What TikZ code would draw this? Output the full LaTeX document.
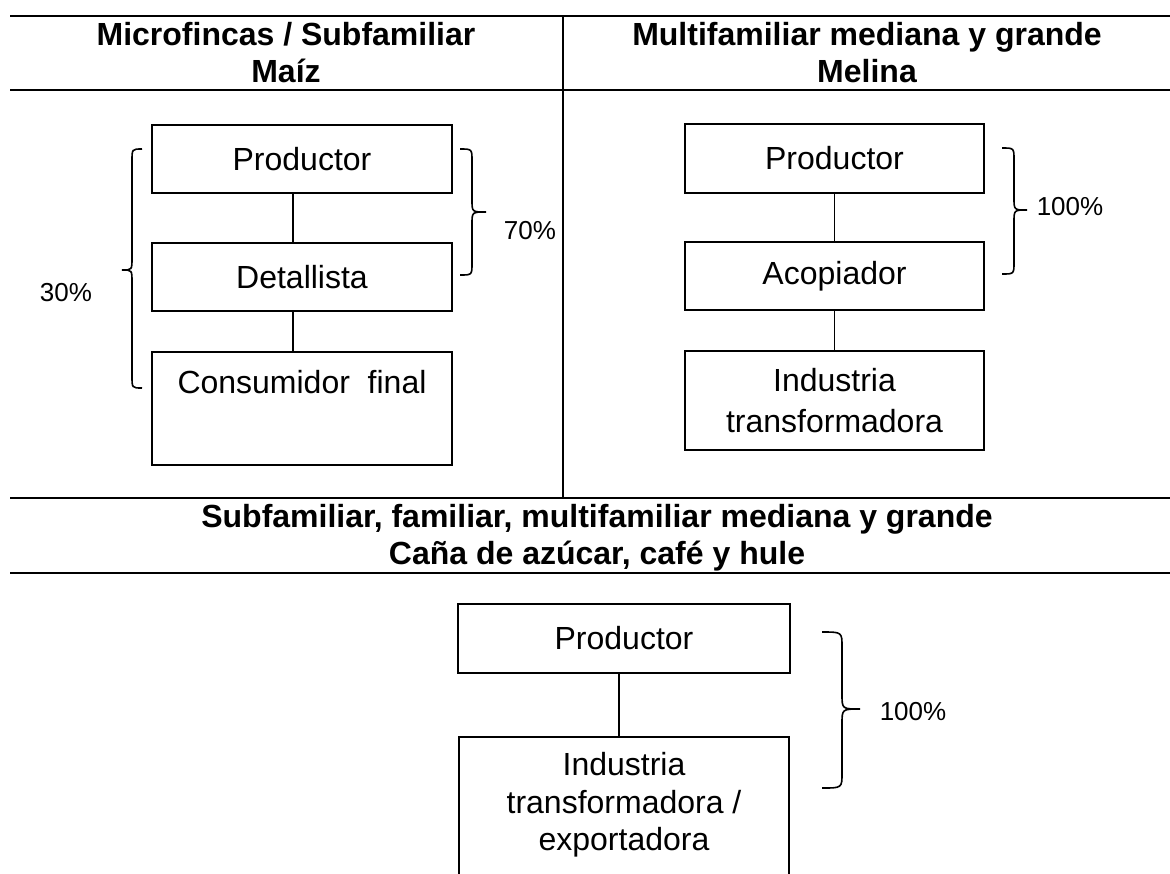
\documentclass[tikz,border=0pt]{standalone}
\usepackage{fontspec}
\setmainfont{Liberation Sans}
\begin{document}
\begin{tikzpicture}[x=0.5pt,y=-0.5pt,
  rule/.style={line width=1pt},
  box/.style={draw, line width=0.9pt, inner sep=0pt, minimum width=150pt, font=\fontsize{16}{19}\selectfont, align=center},
  txt/.style={inner sep=0pt, font=\fontsize{16}{19}\selectfont, align=center},
  head/.style={font=\bfseries\fontsize{16}{18.5}\selectfont, align=center, inner sep=0pt},
  link/.style={line width=0.8pt},
  brace/.style={line width=0.8pt},
  pct/.style={font=\fontsize{13}{15}\selectfont, inner sep=0pt}]
\useasboundingbox (0,0) rectangle (1170,873);
\clip (0,0) rectangle (1170,873);

% table rules
\draw[rule] (10,16) -- (1170,16);
\draw[rule] (10,90) -- (1170,90);
\draw[rule] (563,16) -- (563,498);
\draw[rule] (10,498) -- (1170,498);
\draw[rule] (10,573) -- (1170,573);

% headers
\node[head] (hL) at (286,53) {Microfincas / Subfamiliar\\Maíz};
\node[head] (hR) at (867,53) {Multifamiliar mediana y grande\\Melina};
\node[head] (hB) at (597,538) {Subfamiliar, familiar, multifamiliar mediana y grande\\Caña de azúcar, café y hule};

% left panel
\node[box, minimum height=34pt] (prodL) at (302,159) {Productor};
\node[box, minimum height=34pt] (detL) at (302,277) {Detallista};
\node[box, minimum height=56.5pt] (consL) at (302,408.5) {};
\node[txt] (consLt) at (302,382) {Consumidor~~final};
\draw[link] ([xshift=-4.5pt]prodL.south) -- ([xshift=-4.5pt]detL.north);
\draw[link] ([xshift=-4.5pt]detL.south) -- ([xshift=-4.5pt]consL.north);

% right panel
\node[box, minimum width=149.5pt, minimum height=34.5pt] (prodR) at (834.5,158.5) {Productor};
\node[box, minimum width=149.5pt, minimum height=34pt] (acoR) at (834.5,276) {Acopiador};
\node[box, minimum width=149.5pt, minimum height=49.5pt, font=\fontsize{16}{20.5}\selectfont] (indR) at (834.5,400.5) {Industria\\transformadora};
\draw[link] (prodR.south) -- (acoR.north);
\draw[link] (acoR.south) -- (indR.north);

% bottom panel
\node[box, minimum width=166pt, minimum height=34.5pt] (prodB) at (624,638.5) {Productor};
\node[box, minimum width=165pt, minimum height=101.5pt] (indB) at (624,838.5) {};
\node[txt, font=\fontsize{16}{18.75}\selectfont] (indBt) at (624,805) {Industria\\transformadora /\\exportadora};
\draw[link] ([xshift=-2.5pt]prodB.south) -- ([xshift=-2.5pt]indB.north);

% braces
\draw[brace] (142,149) .. controls (132,149) .. (132,161) -- (132,258) .. controls (132,270) .. (122,270) .. controls (132,270) .. (132,282) -- (132,376) .. controls (132,388) .. (142,388);
\draw[brace] (460,149) .. controls (472,149) .. (472,161) -- (472,200) .. controls (472,212) .. (486,212) .. controls (472,212) .. (472,224) -- (472,263) .. controls (472,275) .. (460,275);
\draw[brace] (1002,148) .. controls (1014,148) .. (1014,160) -- (1014,198) .. controls (1014,210) .. (1027,210) .. controls (1014,210) .. (1014,222) -- (1014,262) .. controls (1014,274) .. (1002,274);
\draw[brace] (822,632) .. controls (842,632) .. (842,647) -- (842,694) .. controls (842,709) .. (860,709) .. controls (842,709) .. (842,724) -- (842,773) .. controls (842,788) .. (822,788);

% percentages
\node[pct] (p30) at (66,293) {30\%};
\node[pct] (p70) at (530,231) {70\%};
\node[pct] (p100a) at (1070,207) {100\%};
\node[pct] (p100b) at (913,712) {100\%};
\end{tikzpicture}
\end{document}
